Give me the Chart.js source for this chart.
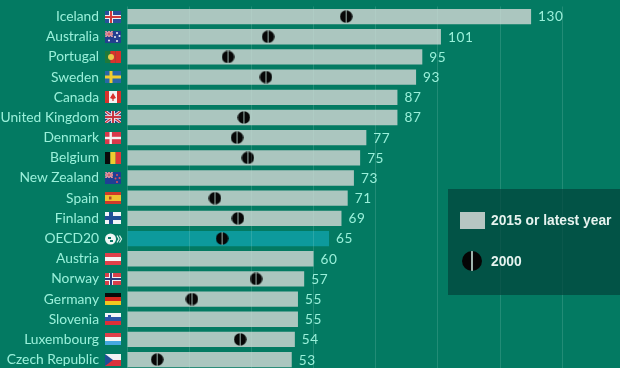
<!DOCTYPE html>
<html>
<head>
<meta charset="utf-8">
<script src="https://cdn.jsdelivr.net/npm/chart.js@4/dist/chart.umd.js"></script>
<style>
  html, body { margin: 0; padding: 0; background: #037a62; overflow: hidden; width: 620px; height: 368px; }
  #wrap { position: absolute; left: 0; top: 0; width: 620px; height: 380px; }
  #legend { position: absolute; left: 448px; top: 189px; width: 172px; height: 106px; background: rgba(3, 68, 60, .72);
    font: bold 13.8px "Liberation Sans", Arial, sans-serif; color: #e6f3ef; }
  #legend span { position: absolute; left: 43px; white-space: nowrap; }
  #swatch { position: absolute; left: 12px; top: 23px; width: 25px; height: 17px; background: #b6c6c2; }
  #dot { position: absolute; left: 14px; top: 62px; width: 20px; height: 20px; border-radius: 50%;
    background: linear-gradient(90deg, #050505 46%, #9fb5ae 46%, #9fb5ae 54%, #050505 54%); }
</style>
</head>
<body>
<div id="wrap"><canvas id="chart"></canvas></div>
<div id="legend">
  <div id="swatch"></div><span style="top:24px">2015 or latest year</span>
  <div id="dot"></div><span style="top:65px">2000</span>
</div>
<script>
const countries = ["Iceland", "Australia", "Portugal", "Sweden", "Canada", "United Kingdom", "Denmark", "Belgium", "New Zealand", "Spain", "Finland", "OECD20", "Austria", "Norway", "Germany", "Slovenia", "Luxembourg", "Czech Republic"];
const latest = [130, 101, 95, 93, 87, 87, 77, 75, 73, 71, 69, 65, 60, 57, 55, 55, 54, 53];
const year2000 = [70.5, 45.4, 32.5, 44.7, null, 37.6, 35.4, 38.9, null, 28.3, 35.7, 30.6, null, 41.5, 20.9, null, 36.4, 9.7];

// simple flag painters, 16x12 box
function stripesH(c, x, y, cols) {
  cols.forEach((col, i) => { c.fillStyle = col; c.fillRect(x, y + i * 12 / cols.length, 16, 12 / cols.length); });
}
function stripesV(c, x, y, cols) {
  cols.forEach((col, i) => { c.fillStyle = col; c.fillRect(x + i * 16 / cols.length, y, 16 / cols.length, 12); });
}
function nordic(c, x, y, bg, outer, inner) {
  c.fillStyle = bg; c.fillRect(x, y, 16, 12);
  c.fillStyle = outer; c.fillRect(x, y + 4, 16, 4); c.fillRect(x + 4, y, 4, 12);
  if (inner) { c.fillStyle = inner; c.fillRect(x, y + 5, 16, 2); c.fillRect(x + 5, y, 2, 12); }
}
function jack(c, x, y, w, h) {
  c.save();
  c.beginPath(); c.rect(x, y, w, h); c.clip();
  c.fillStyle = "#2a3f7e"; c.fillRect(x, y, w, h);
  c.strokeStyle = "#e8e8ee"; c.lineWidth = h / 4;
  c.beginPath(); c.moveTo(x, y); c.lineTo(x + w, y + h); c.moveTo(x + w, y); c.lineTo(x, y + h); c.stroke();
  c.strokeStyle = "#c8303c"; c.lineWidth = h / 9;
  c.beginPath(); c.moveTo(x, y); c.lineTo(x + w, y + h); c.moveTo(x + w, y); c.lineTo(x, y + h); c.stroke();
  c.fillStyle = "#e8e8ee"; c.fillRect(x, y + h * .35, w, h * .3); c.fillRect(x + w * .38, y, w * .24, h);
  c.fillStyle = "#c8303c"; c.fillRect(x, y + h * .42, w, h * .16); c.fillRect(x + w * .44, y, w * .12, h);
  c.restore();
}
function stars(c, x, y, pts, col) {
  c.fillStyle = col;
  pts.forEach(p => { c.beginPath(); c.arc(x + p[0], y + p[1], 1, 0, 7); c.fill(); });
}
const flags = {
  "Iceland": (c, x, y) => nordic(c, x, y, "#2a4f9a", "#eef0f4", "#d33a3a"),
  "Australia": (c, x, y) => {
    c.fillStyle = "#23408f"; c.fillRect(x, y, 16, 12);
    jack(c, x, y, 8, 6);
    stars(c, x, y, [[4, 9.5], [12, 2], [14.5, 5], [10, 6], [12, 10]], "#eef0f4");
  },
  "Portugal": (c, x, y) => {
    stripesV(c, x, y, ["#1f7a3a", "#d8322c", "#d8322c"]);
    c.fillStyle = "#e8c84a"; c.beginPath(); c.arc(x + 6, y + 6, 3, 0, 7); c.fill();
  },
  "Sweden": (c, x, y) => {
    c.fillStyle = "#2a66a8"; c.fillRect(x, y, 16, 12);
    c.fillStyle = "#f0cc30"; c.fillRect(x, y + 4.5, 16, 3); c.fillRect(x + 4.5, y, 3, 12);
  },
  "Canada": (c, x, y) => {
    stripesV(c, x, y, ["#d8322c", "#f2f2f2", "#f2f2f2", "#d8322c"]);
    c.fillStyle = "#d8322c"; c.beginPath();
    c.moveTo(x + 8, y + 2); c.lineTo(x + 11, y + 7); c.lineTo(x + 8.6, y + 8); c.lineTo(x + 8.6, y + 10);
    c.lineTo(x + 7.4, y + 10); c.lineTo(x + 7.4, y + 8); c.lineTo(x + 5, y + 7); c.closePath(); c.fill();
  },
  "United Kingdom": (c, x, y) => jack(c, x, y, 16, 12),
  "Denmark": (c, x, y) => {
    c.fillStyle = "#d8384a"; c.fillRect(x, y, 16, 12);
    c.fillStyle = "#f2f2f2"; c.fillRect(x, y + 4.8, 16, 2.4); c.fillRect(x + 4.5, y, 2.4, 12);
  },
  "Belgium": (c, x, y) => stripesV(c, x, y, ["#0a0a0a", "#f0cc30", "#e03a3a"]),
  "New Zealand": (c, x, y) => {
    c.fillStyle = "#1f3f94"; c.fillRect(x, y, 16, 12);
    jack(c, x, y, 8, 6);
    stars(c, x, y, [[12, 3], [14.5, 6], [10.5, 6.5], [12, 10]], "#e0505a");
  },
  "Spain": (c, x, y) => {
    c.fillStyle = "#cf3a2a"; c.fillRect(x, y, 16, 12);
    c.fillStyle = "#f0c030"; c.fillRect(x, y + 3, 16, 6);
    c.fillStyle = "#b0482a"; c.fillRect(x + 4, y + 4.5, 2.5, 3);
  },
  "Finland": (c, x, y) => nordic(c, x, y, "#f2f4f6", "#1f4f96"),
  "OECD20": (c, x, y) => {
    c.fillStyle = "#eef6f4"; c.beginPath(); c.arc(x + 5.5, y + 6, 5.5, 0, 7); c.fill();
    c.fillStyle = "#0a7a68"; c.fillRect(x + 3, y + 4, 3, 2); c.fillRect(x + 5, y + 7, 3, 2);
    c.strokeStyle = "#dff2ee"; c.lineWidth = 1.2;
    [12, 14.5].forEach(d => { c.beginPath(); c.moveTo(x + d, y + 2.5); c.lineTo(x + d + 2, y + 6); c.lineTo(x + d, y + 9.5); c.stroke(); });
  },
  "Austria": (c, x, y) => stripesH(c, x, y, ["#e0404a", "#f4f4f4", "#e0404a"]),
  "Norway": (c, x, y) => nordic(c, x, y, "#d8404a", "#eef0f4", "#2a3f80"),
  "Germany": (c, x, y) => stripesH(c, x, y, ["#0a0a0a", "#d6281e", "#f0c820"]),
  "Slovenia": (c, x, y) => {
    stripesH(c, x, y, ["#f2f4f6", "#2a55a8", "#dc3038"]);
    c.fillStyle = "#2a55a8"; c.fillRect(x + 3, y + 2, 3, 4);
  },
  "Luxembourg": (c, x, y) => stripesH(c, x, y, ["#e0404a", "#f4f4f4", "#46a8e0"]),
  "Czech Republic": (c, x, y) => {
    stripesH(c, x, y, ["#f2f2f2", "#d8323c"]);
    c.fillStyle = "#1f4f96"; c.beginPath(); c.moveTo(x, y); c.lineTo(x + 8, y + 6); c.lineTo(x, y + 12); c.closePath(); c.fill();
  }
};

// black dot with the pale slit, used as the point style
const dotImg = document.createElement("canvas");
dotImg.width = 13; dotImg.height = 13;
{
  const d = dotImg.getContext("2d");
  d.fillStyle = "#070707"; d.beginPath(); d.arc(6.5, 6.5, 6.2, 0, 7); d.fill();
  d.fillStyle = "#9db5ae"; d.fillRect(6, 0, 1, 13);
}

const extras = {
  id: "extras",
  afterDatasetsDraw(chart) {
    const c = chart.ctx, xs = chart.scales.x, ys = chart.scales.y;
    c.save();
    c.font = '13.6px Lato, sans-serif';
    c.letterSpacing = "0.6px";
    c.fillStyle = "#9af0da";
    c.textBaseline = "middle";
    latest.forEach((v, i) => c.fillText(v, xs.getPixelForValue(v) + 7, ys.getPixelForValue(i) + 0.5));
    c.restore();
  },
  afterDraw(chart) {
    const c = chart.ctx, ys = chart.scales.y;
    countries.forEach((name, i) => flags[name](c, ys.right - 22, Math.round(ys.getPixelForValue(i)) - 6));
  }
};

new Chart(document.getElementById("chart"), {
  data: {
    labels: countries,
    datasets: [
      {
        type: "line",
        label: "2000",
        indexAxis: "y",
        data: year2000,
        showLine: false,
        spanGaps: false,
        pointStyle: dotImg,
        pointRadius: 6.5,
        order: 0
      },
      {
        type: "bar",
        label: "2015 or latest year",
        data: latest,
        categoryPercentage: 1,
        barPercentage: 0.76,
        backgroundColor: countries.map(n => n === "OECD20" ? "#0d9a9c" : "#abc6bf"),
        order: 1
      }
    ]
  },
  options: {
    indexAxis: "y",
    responsive: true,
    maintainAspectRatio: false,
    animation: false,
    layout: { autoPadding: false, padding: { top: 6.5, bottom: 10.3, left: 0, right: 0 } },
    plugins: { legend: { display: false }, tooltip: { enabled: false } },
    scales: {
      x: {
        min: 0,
        max: 158.6,
        ticks: { display: false, stepSize: 20 },
        grid: { color: "rgba(200,235,225,.16)", drawTicks: false, z: 1 },
        border: { display: false }
      },
      y: {
        afterFit(s) { s.width = 127; s.paddingTop = 0; s.paddingBottom = 0; },
        ticks: { color: "#9af0da", padding: 28, autoSkip: false, font: { family: "Lato", size: 13.8 } },
        grid: { display: false, drawTicks: false },
        border: { display: false }
      }
    }
  },
  plugins: [extras]
});
</script>
</body>
</html>
